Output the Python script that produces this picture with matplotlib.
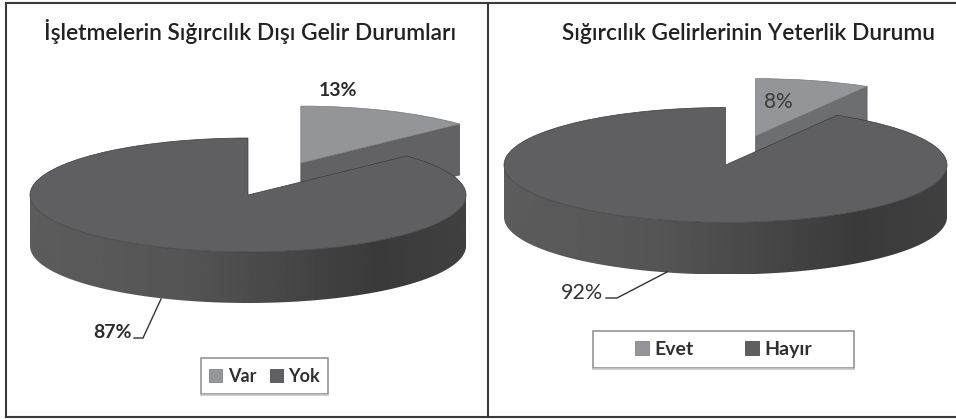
import numpy as np
import matplotlib
matplotlib.use("Agg")
import matplotlib.pyplot as plt
from matplotlib.lines import Line2D
from matplotlib.patches import Rectangle, Polygon

W, H = 956, 419

# values
left_title = "İşletmelerin Sığırcılık Dışı Gelir Durumları"
left_labels = ["Var", "Yok"]
left_values = [13, 87]
left_pct = ["13%", "87%"]

right_title = "Sığırcılık Gelirlerinin Yeterlik Durumu"
right_labels = ["Evet", "Hayır"]
# slice measures a bit over 8 on the picture, printed label rounds it to 8%
right_values = [8.4, 91.6]
right_pct = ["8%", "92%"]

LIGHT = "#949598"
DARK = "#5f5f61"
FONT = "Lato"

plt.rcParams["font.family"] = [FONT, "DejaVu Sans"]
fig = plt.figure(figsize=(W / 100, H / 100), dpi=100, facecolor="white")


def fx(x):
    return x / W


def fy(y):
    return 1 - y / H


# draws one fake 3d pie, panel and pie geometry are in pixels
def pie3d(panel, cx, cy, rx, ry, depth, values, explode, face_col):
    x0, x1, y0, y1 = panel
    ax = fig.add_axes([fx(x0), fy(y1), (x1 - x0) / W, (y1 - y0) / H])
    wedges, _ = ax.pie(values, colors=[LIGHT, DARK], startangle=90, counterclock=False,
                       explode=explode, radius=1, center=(0, 0),
                       wedgeprops={"linewidth": 0.5})
    ax.set_aspect("auto")
    ax.set_xlim((x0 - cx) / rx, (x1 - cx) / rx)
    ax.set_ylim((cy - y1) / ry, (cy - y0) / ry)
    d = depth / ry
    small, big = wedges
    small.set(zorder=3, edgecolor="#77787a")
    big.set(zorder=6, edgecolor="#3c3c3e")

    # cut face of the pulled out slice
    a = np.deg2rad(small.theta1)
    sx, sy = small.center
    ex, ey = sx + np.cos(a), sy + np.sin(a)
    ax.add_patch(Polygon([(sx, sy), (ex, ey), (ex, ey - d), (sx, sy - d)],
                         facecolor=face_col, edgecolor="#4a4a4c", linewidth=0.4, zorder=2))

    # side wall of the big slice, gradient clipped to the rim
    t = np.linspace(np.pi, 2 * np.pi, 200)
    rim = np.r_[np.c_[np.cos(t), np.sin(t)], np.c_[np.cos(t[::-1]), np.sin(t[::-1]) - d]]
    wall = Polygon(rim, transform=ax.transData, facecolor="none", edgecolor="none")
    ax.add_patch(wall)
    grad = np.interp(np.linspace(0, 1, 256), [0, 0.35, 0.8, 1], [0x5c, 0x55, 0x3a, 0x40])
    xlim, ylim = ax.get_xlim(), ax.get_ylim()
    img = ax.imshow(grad[None, :], cmap="gray", vmin=0, vmax=255, aspect="auto",
                    extent=(-1, 1, -1 - d, 0), zorder=5, interpolation="bilinear")
    img.set_clip_path(wall)
    ax.set_xlim(xlim)
    ax.set_ylim(ylim)
    ax.axis("off")
    return ax, wedges


def legend_box(ax, wedges, labels, box, spacing, size):
    x0, y0, x1, y1 = box
    fig.add_artist(Rectangle((fx(x0), fy(y1)), (x1 - x0) / W, (y1 - y0) / H,
                             transform=fig.transFigure, facecolor="white",
                             edgecolor="#8c8c8c", linewidth=1.1, zorder=-1))
    fig.add_artist(Line2D([fx(x0), fx(x1)], [fy(y1 + 1)] * 2, color="#c4c4c4", linewidth=1.2, zorder=-1))
    leg = ax.legend(wedges, labels, ncol=2, loc="center", frameon=False,
                    bbox_to_anchor=(fx((x0 + x1) / 2), fy((y0 + y1) / 2)),
                    bbox_transform=fig.transFigure, handlelength=0.72, handleheight=0.72,
                    handletextpad=0.3, columnspacing=spacing, borderpad=0, borderaxespad=0,
                    prop={"family": FONT, "weight": "bold", "size": size})
    leg.set_zorder(10)
    for txt in leg.get_texts():
        txt.set_color("#303030")


# left chart
ax1, w1 = pie3d((8, 487, 60, 415), 248, 195, 218, 57, 51, left_values, [0.61, 0], "#626264")
fig.text(fx(250), fy(31), left_title, fontsize=16.4, color="#222222", ha="center", va="center", fontweight="semibold")
fig.text(fx(338), fy(91), left_pct[0], fontsize=14, color="#2a2a2a", ha="center", va="center", fontweight="bold")
fig.text(fx(113), fy(332), left_pct[1], fontsize=14, color="#2a2a2a", ha="center", va="center", fontweight="bold")
fig.add_artist(Line2D([fx(161), fx(143), fx(134)], [fy(299), fy(338), fy(338)], color="#333333", linewidth=1.0))
legend_box(ax1, w1, left_labels, (201, 358, 328, 394), 0.75, 13)

# right chart
ax2, w2 = pie3d((490, 956, 60, 415), 725.5, 165, 221.5, 57.5, 52, right_values, [0.52, 0], "#6d6e71")
fig.text(fx(749), fy(33), right_title, fontsize=16.4, color="#222222", ha="center", va="center", fontweight="semibold")
fig.text(fx(778), fy(102), right_pct[0], fontsize=15, color="#3a3a3a", ha="center", va="center", zorder=20)
fig.text(fx(582), fy(293), right_pct[1], fontsize=15.5, color="#333333", ha="center", va="center")
fig.add_artist(Line2D([fx(667), fx(617), fx(606)], [fy(272), fy(298), fy(298)], color="#333333", linewidth=1.0))
legend_box(ax2, w2, right_labels, (593, 331, 854, 368), 2.6, 14)

# panel borders
for xs, ys in [((6, 6), (3, 417)), ((488, 488), (3, 417)), ((6, 956), (3, 3)), ((6, 956), (417, 417))]:
    fig.add_artist(Line2D([fx(xs[0]), fx(xs[1])], [fy(ys[0]), fy(ys[1])], color="#3a3a3a", linewidth=1.5))

fig.savefig("out.png", dpi=100)
